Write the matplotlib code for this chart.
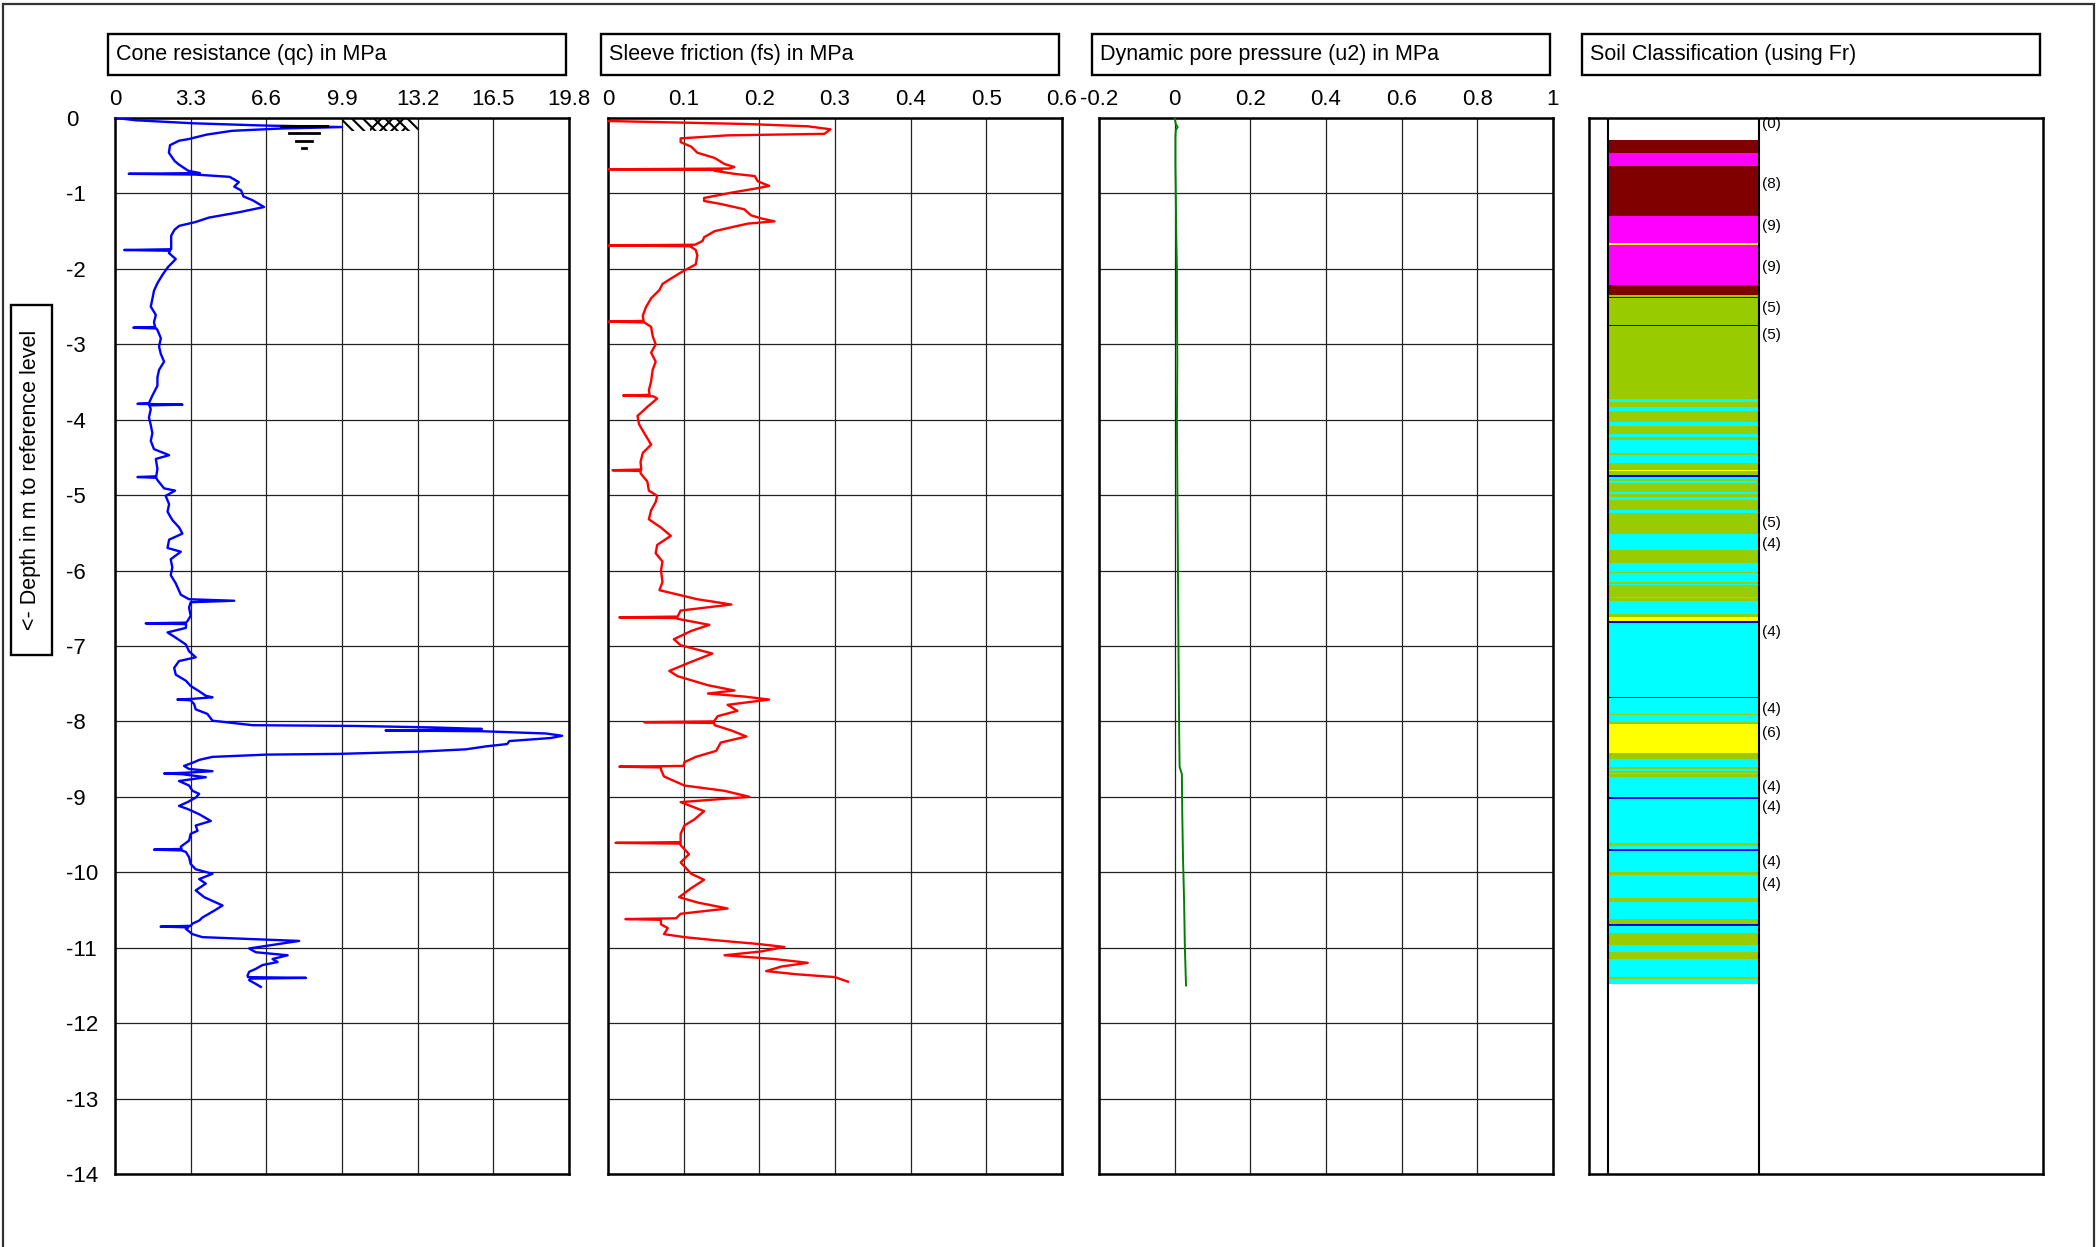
import matplotlib
matplotlib.use("Agg")
import matplotlib.pyplot as plt
from matplotlib.patches import Rectangle

plt.rcParams["font.family"] = ["Liberation Sans", "DejaVu Sans"]
plt.rcParams["hatch.linewidth"] = 1.5

# cone resistance qc in MPa, depth in m below reference level
qc_depth = [0.00, 0.03, 0.07, 0.10, 0.12, 0.14, 0.17, 0.22, 0.28, 0.30, 0.36, 0.46,
            0.57, 0.62, 0.70, 0.73, 0.74, 0.75, 0.78, 0.85, 0.91, 0.96, 1.04, 1.09,
            1.18, 1.25, 1.32, 1.38, 1.43, 1.48, 1.56, 1.74, 1.75, 1.76, 1.79, 1.87,
            1.98, 2.08, 2.19, 2.29, 2.40, 2.50, 2.61, 2.71, 2.77, 2.78, 2.79, 2.81,
            2.92, 3.03, 3.13, 3.23, 3.34, 3.44, 3.55, 3.68, 3.78, 3.79, 3.80, 3.81,
            3.86, 3.97, 4.07, 4.18, 4.28, 4.39, 4.47, 4.52, 4.65, 4.75, 4.76, 4.77,
            4.80, 4.91, 4.94, 5.01, 5.12, 5.22, 5.33, 5.43, 5.51, 5.59, 5.70, 5.75,
            5.85, 5.96, 6.06, 6.17, 6.32, 6.38, 6.40, 6.42, 6.49, 6.60, 6.67, 6.69,
            6.70, 6.71, 6.76, 6.82, 6.89, 6.98, 7.07, 7.15, 7.20, 7.29, 7.38, 7.46,
            7.53, 7.60, 7.66, 7.68, 7.70, 7.71, 7.72, 7.77, 7.84, 7.90, 7.99, 8.05,
            8.06, 8.08, 8.10, 8.11, 8.12, 8.13, 8.16, 8.19, 8.22, 8.26, 8.30, 8.33,
            8.37, 8.40, 8.43, 8.44, 8.47, 8.51, 8.54, 8.59, 8.63, 8.66, 8.68, 8.69,
            8.70, 8.74, 8.79, 8.85, 8.92, 8.96, 9.01, 9.07, 9.12, 9.16, 9.23, 9.32,
            9.38, 9.45, 9.49, 9.58, 9.66, 9.69, 9.70, 9.71, 9.73, 9.80, 9.89, 9.96,
            10.02, 10.09, 10.15, 10.24, 10.33, 10.40, 10.44, 10.51, 10.60, 10.64, 10.68,
            10.71, 10.72, 10.73, 10.75, 10.82, 10.86, 10.89, 10.91, 10.95, 11.01, 11.06,
            11.10, 11.15, 11.19, 11.23, 11.28, 11.32, 11.37, 11.39, 11.40, 11.41, 11.43,
            11.48, 11.52]
qc_value = [0.05, 0.9, 3.4, 6.5, 9.9, 7.2, 5.1, 4.0, 3.2, 2.8, 2.4, 2.35,
            2.6, 2.8, 3.2, 3.7, 0.6, 3.5, 5.0, 5.4, 5.2, 5.5, 5.6, 6.0,
            6.5, 5.4, 4.1, 3.5, 2.8, 2.6, 2.45, 2.45, 0.4, 2.4, 2.35, 2.65,
            2.3, 2.07, 1.85, 1.7, 1.63, 1.56, 1.78, 1.7, 1.75, 0.8, 1.8, 1.85,
            2.0, 1.92, 2.0, 2.14, 1.92, 1.85, 1.85, 1.63, 1.48, 0.98, 2.94, 1.5,
            1.56, 1.48, 1.56, 1.63, 1.56, 1.7, 2.36, 1.78, 1.85, 1.8, 0.98, 1.8,
            1.85, 2.14, 2.62, 2.21, 2.36, 2.29, 2.5, 2.8, 2.94, 2.36, 2.29, 2.87,
            2.43, 2.5, 2.43, 2.65, 2.87, 3.23, 5.2, 3.3, 3.23, 3.3, 3.16, 3.1,
            1.34, 3.1, 3.09, 2.29, 2.65, 3.09, 3.23, 3.52, 2.79, 2.58, 2.65, 3.09,
            3.3, 3.67, 3.96, 4.25, 3.4, 2.72, 3.3, 3.45, 3.52, 4.03, 4.25, 6.0,
            10.5, 13.9, 16.0, 14.5, 11.8, 16.0, 18.8, 19.5, 19.0, 17.2, 17.1, 16.2,
            15.3, 13.3, 9.8, 6.6, 4.25, 3.67, 3.45, 3.01, 3.23, 4.25, 3.1, 2.14,
            2.94, 3.96, 2.79, 3.23, 3.38, 3.67, 3.52, 3.16, 2.79, 3.16, 3.67, 4.18,
            3.52, 3.6, 3.3, 3.23, 2.87, 2.9, 1.7, 2.9, 3.09, 3.23, 3.3, 3.52,
            4.25, 3.67, 3.96, 3.52, 3.89, 4.4, 4.69, 4.32, 3.81, 3.67, 3.38,
            3.3, 1.99, 3.2, 3.09, 3.38, 3.81, 6.29, 8.03, 7.16, 5.85, 6.14,
            7.53, 6.87, 7.09, 6.43, 6.14, 5.85, 5.78, 5.8, 8.33, 5.9, 5.85,
            6.14, 6.36]

# sleeve friction fs in MPa
fs_depth = [0.04, 0.08, 0.11, 0.15, 0.21, 0.23, 0.27, 0.32, 0.38, 0.46, 0.53, 0.61,
            0.65, 0.67, 0.68, 0.69, 0.70, 0.74, 0.77, 0.84, 0.90, 0.93, 0.99, 1.06,
            1.10, 1.14, 1.18, 1.21, 1.29, 1.33, 1.37, 1.40, 1.44, 1.50, 1.58, 1.63,
            1.68, 1.69, 1.70, 1.71, 1.75, 1.82, 1.94, 2.05, 2.13, 2.20, 2.28, 2.39,
            2.51, 2.62, 2.69, 2.70, 2.71, 2.77, 2.89, 3.00, 3.11, 3.23, 3.34, 3.49,
            3.61, 3.67, 3.68, 3.69, 3.72, 3.83, 3.95, 4.06, 4.18, 4.33, 4.44, 4.56,
            4.66, 4.67, 4.68, 4.71, 4.82, 4.94, 5.01, 5.09, 5.20, 5.32, 5.43, 5.54,
            5.66, 5.77, 5.88, 6.00, 6.15, 6.26, 6.34, 6.38, 6.45, 6.53, 6.61, 6.62,
            6.63, 6.64, 6.72, 6.80, 6.91, 6.99, 7.10, 7.21, 7.33, 7.40, 7.52, 7.59,
            7.63, 7.67, 7.71, 7.78, 7.86, 7.93, 8.00, 8.01, 8.02, 8.05, 8.12, 8.20,
            8.28, 8.39, 8.47, 8.54, 8.59, 8.60, 8.61, 8.64, 8.73, 8.85, 8.92, 9.00,
            9.07, 9.19, 9.30, 9.38, 9.49, 9.60, 9.61, 9.62, 9.64, 9.76, 9.87, 10.02,
            10.10, 10.21, 10.33, 10.40, 10.48, 10.55, 10.61, 10.62, 10.63, 10.69, 10.74,
            10.82, 10.86, 10.90, 10.95, 10.99, 11.05, 11.10, 11.15, 11.20, 11.25, 11.31,
            11.35, 11.39, 11.45]
fs_value = [0.0, 0.185, 0.264, 0.294, 0.286, 0.158, 0.096, 0.096, 0.110, 0.118, 0.141, 0.154,
            0.167, 0.160, 0.001, 0.150, 0.141, 0.167, 0.194, 0.198, 0.213, 0.198, 0.163, 0.127,
            0.127, 0.149, 0.167, 0.180, 0.189, 0.202, 0.220, 0.185, 0.167, 0.141, 0.127, 0.125,
            0.115, 0.001, 0.110, 0.110, 0.116, 0.118, 0.116, 0.096, 0.083, 0.072, 0.068, 0.057,
            0.050, 0.046, 0.047, 0.001, 0.048, 0.057, 0.059, 0.063, 0.057, 0.063, 0.059, 0.057,
            0.054, 0.055, 0.020, 0.060, 0.065, 0.052, 0.039, 0.041, 0.048, 0.057, 0.046, 0.043,
            0.044, 0.006, 0.043, 0.043, 0.052, 0.054, 0.065, 0.063, 0.057, 0.054, 0.070, 0.083,
            0.065, 0.063, 0.072, 0.070, 0.072, 0.068, 0.101, 0.118, 0.163, 0.096, 0.092, 0.015,
            0.090, 0.092, 0.134, 0.110, 0.087, 0.096, 0.138, 0.110, 0.081, 0.092, 0.132, 0.167,
            0.132, 0.180, 0.213, 0.158, 0.171, 0.145, 0.140, 0.048, 0.140, 0.141, 0.163, 0.183,
            0.149, 0.143, 0.116, 0.101, 0.100, 0.015, 0.070, 0.070, 0.074, 0.101, 0.154, 0.187,
            0.096, 0.127, 0.114, 0.101, 0.096, 0.096, 0.010, 0.096, 0.096, 0.107, 0.096, 0.110,
            0.127, 0.110, 0.094, 0.118, 0.158, 0.096, 0.090, 0.023, 0.070, 0.070, 0.079,
            0.074, 0.101, 0.141, 0.198, 0.233, 0.202, 0.154, 0.220, 0.264, 0.229, 0.209,
            0.247, 0.300, 0.317]

# dynamic pore pressure u2 in MPa
u2_depth = [0.00, 0.08, 0.12, 0.16, 0.25, 0.60, 1.00, 1.50, 2.00, 2.60, 3.20, 4.00,
            4.80, 5.50, 6.20, 7.00, 7.60, 8.20, 8.60, 8.70, 9.20, 9.80, 10.40, 11.00,
            11.50]
u2_value = [0.000, 0.003, 0.008, 0.003, 0.002, 0.002, 0.003, 0.004, 0.006, 0.006, 0.007, 0.006,
            0.007, 0.008, 0.009, 0.010, 0.011, 0.012, 0.013, 0.019, 0.020, 0.022, 0.025, 0.027,
            0.030]

qc_ticks = [0, 3.3, 6.6, 9.9, 13.2, 16.5, 19.8]
fs_ticks = [0, 0.1, 0.2, 0.3, 0.4, 0.5, 0.6]
u2_ticks = [-0.2, 0, 0.2, 0.4, 0.6, 0.8, 1]
depth_ticks = list(range(0, -15, -1))

panel_titles = ["Cone resistance (qc) in MPa", "Sleeve friction (fs) in MPa",
                "Dynamic pore pressure (u2) in MPa", "Soil Classification (using Fr)"]
depth_label = "<- Depth in m to reference level"

# soil layers: top of each layer and its class, the last layer ends at soil_end
soil_top = [0.29, 0.46, 0.63, 1.30, 1.66, 1.68, 2.22, 2.35, 2.37, 2.39, 2.74, 2.755,
            3.72, 3.76, 3.83, 3.88, 4.03, 4.086, 4.183, 4.227, 4.271, 4.439, 4.470, 4.572,
            4.669, 4.686, 4.739, 4.753, 4.784, 4.810, 4.837, 4.956, 4.987, 5.022, 5.066, 5.199,
            5.243, 5.517, 5.729, 5.906, 6.025, 6.038, 6.149, 6.180, 6.193, 6.348, 6.370, 6.405,
            6.582, 6.613, 6.670, 6.692, 7.673, 7.686, 7.903, 7.920, 8.004, 8.035, 8.415, 8.503,
            8.610, 8.636, 8.654, 8.680, 8.702, 8.733, 9.007, 9.025, 9.617, 9.648, 9.692, 9.718,
            10.001, 10.032, 10.346, 10.390, 10.624, 10.686, 10.708, 10.810, 10.964, 11.053, 11.154, 11.393,
            11.419]
soil_class = [8, 9, 8, 9, 6, 9, 8, 5, 8, 5, 3, 5,
              4, 5, 4, 5, 4, 5, 4, 5, 4, 5, 4, 5,
              6, 5, 3, 4, 5, 4, 5, 4, 5, 4, 5, 4,
              5, 4, 5, 4, 5, 4, 5, 4, 5, 4, 5, 4,
              5, 6, 3, 4, 3, 4, 5, 4, 5, 6, 5, 4,
              5, 4, 5, 4, 5, 4, 3, 4, 5, 4, 3, 4,
              5, 4, 5, 4, 5, 3, 4, 5, 4, 5, 4, 5,
              4]
soil_end = 11.486
soil_colors = {3: "#0000FF", 4: "#00FFFF", 5: "#99CC00", 6: "#FFFF00",
               8: "#800000", 9: "#FF00FF"}

class_label_depth = [0.08, 0.87, 1.43, 1.98, 2.52, 2.88, 5.37, 5.65, 6.82, 7.83,
                     8.16, 8.87, 9.14, 9.86, 10.16]
class_label_text = ["(0)", "(8)", "(9)", "(9)", "(5)", "(5)", "(5)", "(4)", "(4)", "(4)",
                    "(6)", "(4)", "(4)", "(4)", "(4)"]

ground_water = 0.1
W, H = 2099, 1247


def fx(px):
    return px / W


def fy(px):
    return 1 - px / H


def make_panel(fig, left, ticks=None, with_depth=False):
    ax = fig.add_axes([left, fy(1174), fx(454), fy(118) - fy(1174)])
    ax.set_ylim(-14, 0)
    for s in ax.spines.values():
        s.set_linewidth(1.8)
    ax.set_yticks(depth_ticks)
    if ticks is not None:
        ax.set_xlim(ticks[0], ticks[-1])
        ax.set_xticks(ticks)
        ax.set_xticklabels(["%g" % t for t in ticks])
        ax.xaxis.tick_top()
        ax.tick_params(axis="x", length=0, pad=6, labelsize=16)
        ax.grid(True, color="#222222", linewidth=0.9)
    if with_depth:
        ax.set_yticklabels(["%d" % t for t in depth_ticks])
        ax.tick_params(axis="y", length=0, pad=35, labelsize=16)
        for lab in ax.get_yticklabels():
            lab.set_horizontalalignment("left")
    else:
        ax.tick_params(axis="y", length=0, labelleft=False)
    ax.set_axisbelow(True)
    return ax


fig = plt.figure(figsize=(W / 100, H / 100), dpi=100)

# outer frame, open at the bottom
fig.patches.append(Rectangle((fx(3), -0.05), fx(2091), 1.05 - 4 / H, transform=fig.transFigure,
                             fill=False, edgecolor="#333333", linewidth=1.6))

lefts = [fx(115), fx(608), fx(1099), fx(1589)]
for left, title in zip(lefts, panel_titles):
    fig.patches.append(Rectangle((left - fx(7), fy(75)), fx(458), fy(34) - fy(75),
                                 transform=fig.transFigure, facecolor="white",
                                 edgecolor="black", linewidth=1.7))
    fig.text(left + fx(1), (fy(75) + fy(34)) / 2, title, fontsize=15.5,
             ha="left", va="center")

# depth axis caption in its own box
fig.patches.append(Rectangle((fx(11), fy(655)), fx(41), fy(305) - fy(655),
                             transform=fig.transFigure, facecolor="white",
                             edgecolor="black", linewidth=1.7))
fig.text(fx(31), (fy(655) + fy(305)) / 2, depth_label, rotation=90, fontsize=15.5,
         ha="center", va="center")

ax1 = make_panel(fig, lefts[0], qc_ticks, with_depth=True)
ax1.plot(qc_value, [-d for d in qc_depth], color="#0000FF", linewidth=1.7, zorder=3)
# ground level hatch
ax1.fill([qc_ticks[3], qc_ticks[4], qc_ticks[4], qc_ticks[3]], [0, 0, -0.17, -0.17],
         facecolor="none", edgecolor="black", hatch="\\\\\\", linewidth=0, zorder=2)
ax1.fill([11.1, 12.7, 12.7, 11.1], [0, 0, -0.17, -0.17],
         facecolor="none", edgecolor="black", hatch="///", linewidth=0, zorder=2)
# ground water symbol
gw_x = 8.25
ax1.plot([gw_x - 1.0, gw_x + 1.0], [-ground_water, -ground_water], color="black", lw=2.2, zorder=4)
ax1.plot([gw_x - 0.65, gw_x + 0.65], [-ground_water - 0.1, -ground_water - 0.1], color="black", lw=2.0, zorder=4)
ax1.plot([gw_x - 0.35, gw_x + 0.35], [-ground_water - 0.21, -ground_water - 0.21], color="black", lw=2.0, zorder=4)
ax1.plot([gw_x - 0.08, gw_x + 0.08], [-ground_water - 0.3, -ground_water - 0.3], color="black", lw=2.0, zorder=4)

ax2 = make_panel(fig, lefts[1], fs_ticks)
ax2.plot(fs_value, [-d for d in fs_depth], color="#FF0000", linewidth=1.7, zorder=3)

ax3 = make_panel(fig, lefts[2], u2_ticks)
ax3.plot(u2_value, [-d for d in u2_depth], color="#008000", linewidth=1.4, zorder=3)

ax4 = make_panel(fig, lefts[3])
ax4.set_xlim(0, 1)
ax4.set_xticks([])
col_left, col_right = 0.042, 0.374
soil_base = soil_top[1:] + [soil_end]
for top, base, cls in zip(soil_top, soil_base, soil_class):
    ax4.barh(-base, col_right - col_left, height=base - top, left=col_left, align="edge",
             color=soil_colors[cls], linewidth=0, zorder=2)
ax4.axvline(col_left, color="black", linewidth=1.5, zorder=3)
ax4.axvline(col_right, color="black", linewidth=1.5, zorder=3)
for d, t in zip(class_label_depth, class_label_text):
    ax4.text(col_right + 0.008, -d, t, fontsize=11, ha="left", va="center")

fig.savefig("out.png", dpi=100)
